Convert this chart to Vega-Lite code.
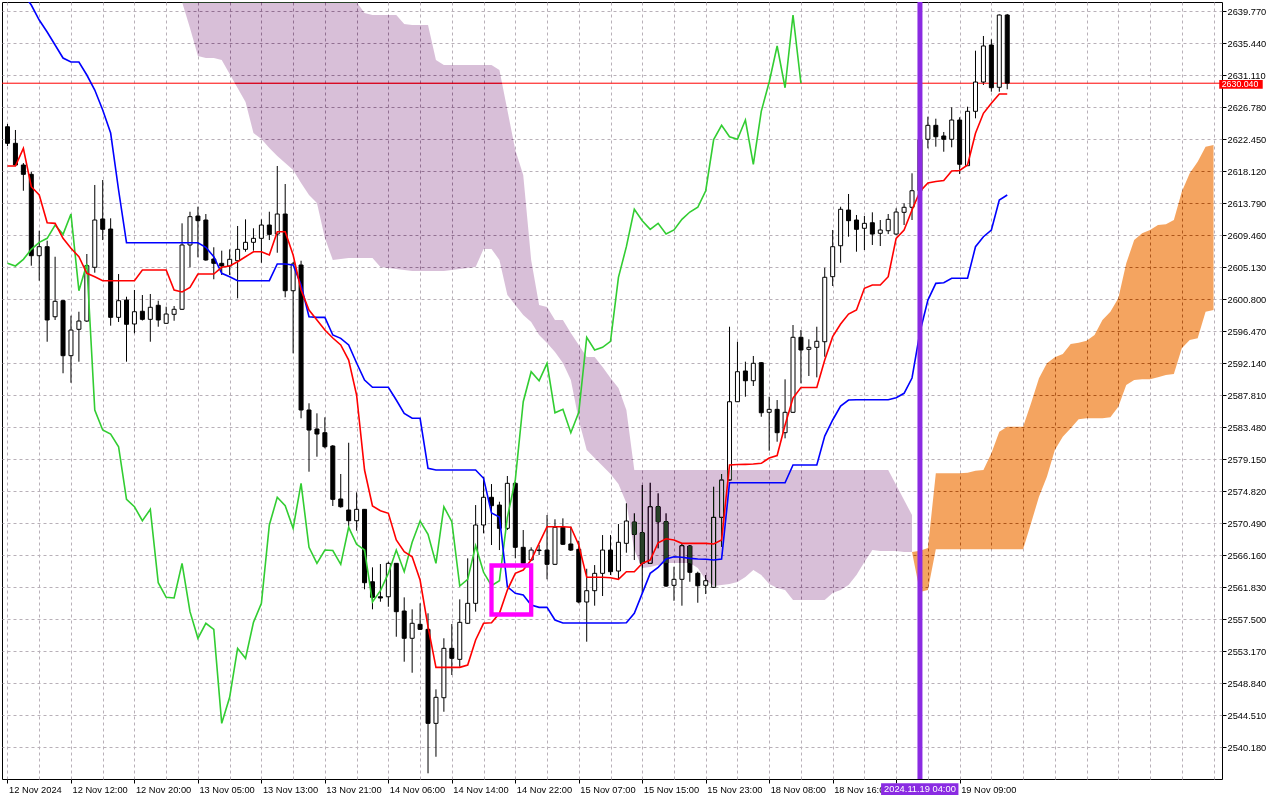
{
  "$schema": "https://vega.github.io/schema/vega-lite/v6.json",
  "width": 1220,
  "height": 777,
  "autosize": "none",
  "padding": {"left": 2, "top": 2, "right": 58, "bottom": 21},
  "background": "#ffffff",
  "config": {
    "view": {"stroke": "#000000", "strokeWidth": 1},
    "axis": {"labelFont": "Liberation Sans", "labelFontSize": 9.3, "labelColor": "#000000", "tickColor": "#000000", "domain": false},
    "text": {"font": "Liberation Sans", "fontSize": 9.3}
  },
  "datasets": {
    "bars": [
      {"i":0,"o":2624.15,"h":2624.52,"l":2621.54,"c":2621.91,"tk":2618.84,"kj":2645.36,"ch":2605.67},
      {"i":1,"o":2621.91,"h":2623.71,"l":2618.84,"c":2618.97,"tk":2618.84,"kj":2643.74,"ch":2605.31},
      {"i":2,"o":2618.97,"h":2619.24,"l":2615.49,"c":2617.71,"tk":2621.23,"kj":2642.11,"ch":2606.21},
      {"i":3,"o":2617.71,"h":2618.07,"l":2605.35,"c":2606.70,"tk":2616.04,"kj":2640.62,"ch":2607.56},
      {"i":4,"o":2606.70,"h":2610.08,"l":2603.32,"c":2607.92,"tk":2614.91,"kj":2638.59,"ch":2608.51},
      {"i":5,"o":2607.92,"h":2608.73,"l":2595.06,"c":2598.00,"tk":2611.16,"kj":2636.97,"ch":2609.05},
      {"i":6,"o":2598.44,"h":2606.56,"l":2598.00,"c":2600.53,"tk":2611.08,"kj":2635.21,"ch":2610.85},
      {"i":7,"o":2600.61,"h":2600.70,"l":2590.79,"c":2593.17,"tk":2609.05,"kj":2633.45,"ch":2609.59},
      {"i":8,"o":2593.17,"h":2598.58,"l":2589.51,"c":2596.64,"tk":2607.70,"kj":2632.91,"ch":2612.34},
      {"i":9,"o":2596.74,"h":2599.12,"l":2592.36,"c":2597.86,"tk":2606.56,"kj":2632.91,"ch":2601.96},
      {"i":10,"o":2597.86,"h":2606.93,"l":2597.73,"c":2605.35,"tk":2604.32,"kj":2631.15,"ch":2605.58},
      {"i":11,"o":2605.13,"h":2616.27,"l":2604.40,"c":2611.53,"tk":2603.86,"kj":2629.12,"ch":2585.82},
      {"i":12,"o":2611.67,"h":2616.94,"l":2608.82,"c":2610.27,"tk":2603.32,"kj":2626.41,"ch":2583.11},
      {"i":13,"o":2610.31,"h":2611.76,"l":2597.23,"c":2598.36,"tk":2603.32,"kj":2623.30,"ch":2582.57},
      {"i":14,"o":2598.36,"h":2604.22,"l":2597.73,"c":2600.61,"tk":2603.32,"kj":2615.59,"ch":2580.85},
      {"i":15,"o":2600.70,"h":2601.15,"l":2592.36,"c":2597.42,"tk":2603.32,"kj":2608.46,"ch":2573.73},
      {"i":16,"o":2597.46,"h":2602.06,"l":2596.20,"c":2599.12,"tk":2603.32,"kj":2608.46,"ch":2572.73},
      {"i":17,"o":2599.18,"h":2601.38,"l":2597.93,"c":2598.09,"tk":2604.76,"kj":2608.46,"ch":2570.84},
      {"i":18,"o":2598.09,"h":2601.52,"l":2595.06,"c":2599.72,"tk":2604.76,"kj":2608.46,"ch":2572.38},
      {"i":19,"o":2599.99,"h":2600.61,"l":2597.09,"c":2598.00,"tk":2604.76,"kj":2608.46,"ch":2562.45},
      {"i":20,"o":2597.55,"h":2599.80,"l":2597.46,"c":2598.81,"tk":2604.76,"kj":2608.46,"ch":2560.47},
      {"i":21,"o":2598.77,"h":2599.89,"l":2597.90,"c":2599.45,"tk":2602.06,"kj":2608.46,"ch":2560.38},
      {"i":22,"o":2599.45,"h":2611.08,"l":2599.35,"c":2608.15,"tk":2601.79,"kj":2608.46,"ch":2565.07},
      {"i":23,"o":2608.15,"h":2612.65,"l":2605.13,"c":2611.98,"tk":2602.40,"kj":2608.46,"ch":2558.53},
      {"i":24,"o":2612.07,"h":2613.33,"l":2606.48,"c":2611.44,"tk":2604.22,"kj":2608.46,"ch":2554.93},
      {"i":25,"o":2611.53,"h":2612.34,"l":2606.02,"c":2606.12,"tk":2604.22,"kj":2607.84,"ch":2556.96},
      {"i":26,"o":2606.25,"h":2607.84,"l":2603.51,"c":2605.67,"tk":2604.22,"kj":2606.56,"ch":2556.14},
      {"i":27,"o":2605.67,"h":2607.38,"l":2604.09,"c":2605.31,"tk":2605.13,"kj":2604.32,"ch":2543.42},
      {"i":28,"o":2605.31,"h":2607.56,"l":2604.09,"c":2606.21,"tk":2605.31,"kj":2603.86,"ch":2546.94},
      {"i":29,"o":2606.02,"h":2610.72,"l":2600.93,"c":2607.56,"tk":2605.89,"kj":2603.32,"ch":2553.57},
      {"i":30,"o":2607.56,"h":2611.62,"l":2607.24,"c":2608.51,"tk":2606.56,"kj":2603.32,"ch":2552.22},
      {"i":31,"o":2608.51,"h":2610.41,"l":2607.38,"c":2609.05,"tk":2607.24,"kj":2603.32,"ch":2557.09},
      {"i":32,"o":2609.05,"h":2611.62,"l":2605.75,"c":2610.85,"tk":2607.24,"kj":2603.32,"ch":2559.66},
      {"i":33,"o":2610.85,"h":2612.65,"l":2608.82,"c":2609.59,"tk":2606.79,"kj":2603.32,"ch":2570.26},
      {"i":34,"o":2609.63,"h":2618.84,"l":2607.10,"c":2612.34,"tk":2609.95,"kj":2605.58,"ch":2574.01},
      {"i":35,"o":2612.34,"h":2616.40,"l":2601.07,"c":2601.96,"tk":2609.95,"kj":2605.58,"ch":2572.87},
      {"i":36,"o":2601.96,"h":2605.85,"l":2593.49,"c":2605.58,"tk":2606.79,"kj":2605.44,"ch":2569.81},
      {"i":37,"o":2605.44,"h":2606.02,"l":2584.70,"c":2585.82,"tk":2602.06,"kj":2602.73,"ch":2575.90},
      {"i":38,"o":2585.82,"h":2586.73,"l":2577.47,"c":2583.11,"tk":2599.35,"kj":2598.44,"ch":2567.24},
      {"i":39,"o":2583.25,"h":2585.37,"l":2579.50,"c":2582.57,"tk":2598.00,"kj":2598.36,"ch":2565.07},
      {"i":40,"o":2582.75,"h":2584.83,"l":2580.64,"c":2580.85,"tk":2596.64,"kj":2598.36,"ch":2566.87},
      {"i":41,"o":2580.95,"h":2581.08,"l":2572.83,"c":2573.73,"tk":2595.56,"kj":2595.97,"ch":2566.80},
      {"i":42,"o":2573.78,"h":2577.16,"l":2572.60,"c":2572.73,"tk":2594.62,"kj":2595.52,"ch":2564.94},
      {"i":43,"o":2572.29,"h":2581.39,"l":2570.03,"c":2570.84,"tk":2592.58,"kj":2594.62,"ch":2569.95},
      {"i":44,"o":2570.84,"h":2574.68,"l":2569.49,"c":2572.38,"tk":2587.85,"kj":2592.18,"ch":2567.65},
      {"i":45,"o":2572.38,"h":2572.42,"l":2561.56,"c":2562.45,"tk":2577.70,"kj":2589.88,"ch":2566.87},
      {"i":46,"o":2562.58,"h":2564.53,"l":2558.85,"c":2560.47,"tk":2572.83,"kj":2588.89,"ch":2559.84},
      {"i":47,"o":2560.55,"h":2564.98,"l":2559.88,"c":2560.38,"tk":2572.19,"kj":2588.89,"ch":2561.37},
      {"i":48,"o":2560.55,"h":2565.29,"l":2559.20,"c":2565.07,"tk":2571.84,"kj":2588.89,"ch":2563.72},
      {"i":49,"o":2565.07,"h":2565.11,"l":2555.14,"c":2558.53,"tk":2568.23,"kj":2587.17,"ch":2566.87},
      {"i":50,"o":2558.62,"h":2560.47,"l":2551.76,"c":2554.93,"tk":2566.64,"kj":2585.37,"ch":2563.94},
      {"i":51,"o":2554.93,"h":2558.85,"l":2550.27,"c":2556.96,"tk":2565.97,"kj":2584.70,"ch":2567.92},
      {"i":52,"o":2556.82,"h":2559.66,"l":2556.05,"c":2556.14,"tk":2562.81,"kj":2584.70,"ch":2570.80},
      {"i":53,"o":2556.14,"h":2558.31,"l":2536.66,"c":2543.42,"tk":2556.50,"kj":2577.93,"ch":2569.00},
      {"i":54,"o":2543.42,"h":2548.02,"l":2538.90,"c":2546.94,"tk":2551.00,"kj":2577.70,"ch":2565.07},
      {"i":55,"o":2546.89,"h":2554.93,"l":2544.99,"c":2553.57,"tk":2551.00,"kj":2577.70,"ch":2572.73},
      {"i":56,"o":2553.57,"h":2556.86,"l":2549.96,"c":2552.22,"tk":2551.00,"kj":2577.70,"ch":2570.70},
      {"i":57,"o":2552.08,"h":2560.20,"l":2551.08,"c":2557.09,"tk":2551.00,"kj":2577.70,"ch":2562.00},
      {"i":58,"o":2556.96,"h":2565.75,"l":2556.86,"c":2559.66,"tk":2551.31,"kj":2577.70,"ch":2562.91},
      {"i":59,"o":2559.66,"h":2572.96,"l":2558.53,"c":2570.26,"tk":2554.70,"kj":2577.70,"ch":2567.46},
      {"i":60,"o":2570.26,"h":2576.79,"l":2569.13,"c":2574.01,"tk":2556.96,"kj":2576.58,"ch":2563.86},
      {"i":61,"o":2574.01,"h":2575.80,"l":2567.55,"c":2572.87,"tk":2557.04,"kj":2571.88,"ch":2562.04},
      {"i":62,"o":2572.96,"h":2573.41,"l":2566.87,"c":2569.81,"tk":2558.31,"kj":2571.34,"ch":2562.72},
      {"i":63,"o":2569.81,"h":2576.89,"l":2569.58,"c":2575.90,"tk":2561.46,"kj":2561.91,"ch":2571.30},
      {"i":64,"o":2575.90,"h":2576.08,"l":2565.75,"c":2567.24,"tk":2563.72,"kj":2561.01,"ch":2576.35},
      {"i":65,"o":2567.24,"h":2569.58,"l":2564.84,"c":2565.07,"tk":2564.17,"kj":2560.79,"ch":2586.94},
      {"i":66,"o":2565.52,"h":2567.24,"l":2565.39,"c":2566.87,"tk":2565.52,"kj":2559.43,"ch":2591.00},
      {"i":67,"o":2566.87,"h":2567.55,"l":2566.20,"c":2566.80,"tk":2567.78,"kj":2559.12,"ch":2589.78},
      {"i":68,"o":2566.87,"h":2571.61,"l":2562.91,"c":2564.94,"tk":2570.03,"kj":2559.12,"ch":2592.14},
      {"i":69,"o":2564.94,"h":2571.03,"l":2564.84,"c":2569.95,"tk":2570.03,"kj":2557.40,"ch":2585.45},
      {"i":70,"o":2569.95,"h":2571.16,"l":2567.55,"c":2567.65,"tk":2570.03,"kj":2557.00,"ch":2585.91},
      {"i":71,"o":2567.69,"h":2570.03,"l":2566.74,"c":2566.87,"tk":2569.95,"kj":2557.00,"ch":2582.75},
      {"i":72,"o":2566.97,"h":2568.13,"l":2559.66,"c":2559.84,"tk":2567.55,"kj":2557.00,"ch":2585.51},
      {"i":73,"o":2559.84,"h":2564.34,"l":2554.47,"c":2561.37,"tk":2563.18,"kj":2557.00,"ch":2595.66},
      {"i":74,"o":2561.37,"h":2564.84,"l":2559.34,"c":2563.72,"tk":2563.18,"kj":2557.00,"ch":2593.94},
      {"i":75,"o":2563.72,"h":2568.90,"l":2560.65,"c":2566.87,"tk":2563.18,"kj":2557.00,"ch":2594.30},
      {"i":76,"o":2566.87,"h":2568.90,"l":2563.49,"c":2563.94,"tk":2563.13,"kj":2557.00,"ch":2595.12},
      {"i":77,"o":2564.03,"h":2570.39,"l":2562.91,"c":2567.92,"tk":2562.91,"kj":2557.00,"ch":2603.78},
      {"i":78,"o":2567.78,"h":2573.19,"l":2566.51,"c":2570.80,"tk":2563.94,"kj":2557.04,"ch":2607.92},
      {"i":79,"o":2570.66,"h":2571.84,"l":2565.52,"c":2569.00,"tk":2563.94,"kj":2558.31,"ch":2612.98},
      {"i":80,"o":2569.21,"h":2575.67,"l":2561.01,"c":2565.07,"tk":2565.07,"kj":2561.01,"ch":2611.44},
      {"i":81,"o":2565.07,"h":2575.98,"l":2564.98,"c":2572.73,"tk":2565.52,"kj":2563.72,"ch":2610.27},
      {"i":82,"o":2572.73,"h":2574.55,"l":2567.10,"c":2570.70,"tk":2567.86,"kj":2564.53,"ch":2611.08},
      {"i":83,"o":2570.70,"h":2571.84,"l":2561.87,"c":2562.00,"tk":2568.40,"kj":2565.66,"ch":2609.63},
      {"i":84,"o":2562.10,"h":2564.61,"l":2560.01,"c":2562.91,"tk":2568.23,"kj":2565.97,"ch":2610.18},
      {"i":85,"o":2562.91,"h":2567.69,"l":2559.34,"c":2567.46,"tk":2567.78,"kj":2565.89,"ch":2611.62},
      {"i":86,"o":2567.42,"h":2567.55,"l":2562.58,"c":2563.86,"tk":2567.78,"kj":2565.75,"ch":2612.61},
      {"i":87,"o":2563.72,"h":2563.94,"l":2559.74,"c":2562.04,"tk":2567.78,"kj":2565.66,"ch":2613.25},
      {"i":88,"o":2562.10,"h":2563.49,"l":2560.92,"c":2562.72,"tk":2567.78,"kj":2565.62,"ch":2615.49},
      {"i":89,"o":2561.83,"h":2575.44,"l":2561.73,"c":2571.30,"tk":2567.69,"kj":2565.52,"ch":2622.42},
      {"i":90,"o":2571.30,"h":2577.16,"l":2567.32,"c":2576.35,"tk":2568.23,"kj":2565.66,"ch":2624.34},
      {"i":91,"o":2576.35,"h":2597.09,"l":2576.21,"c":2586.94,"tk":2578.38,"kj":2575.98,"ch":2622.80},
      {"i":92,"o":2586.94,"h":2595.06,"l":2586.90,"c":2591.00,"tk":2578.44,"kj":2575.98,"ch":2622.45},
      {"i":93,"o":2591.10,"h":2592.36,"l":2587.62,"c":2589.78,"tk":2578.47,"kj":2575.98,"ch":2625.06},
      {"i":94,"o":2589.78,"h":2593.13,"l":2589.07,"c":2592.14,"tk":2578.51,"kj":2575.98,"ch":2619.07},
      {"i":95,"o":2592.22,"h":2592.31,"l":2584.91,"c":2585.45,"tk":2578.61,"kj":2575.98,"ch":2626.24},
      {"i":96,"o":2585.51,"h":2587.62,"l":2580.31,"c":2585.91,"tk":2579.32,"kj":2575.98,"ch":2630.20},
      {"i":97,"o":2585.91,"h":2587.17,"l":2581.53,"c":2582.75,"tk":2579.66,"kj":2575.98,"ch":2635.08},
      {"i":98,"o":2582.75,"h":2589.97,"l":2581.99,"c":2585.51,"tk":2583.79,"kj":2575.98,"ch":2629.43},
      {"i":99,"o":2585.51,"h":2597.32,"l":2585.41,"c":2595.66,"tk":2587.44,"kj":2578.38,"ch":2639.27},
      {"i":100,"o":2595.66,"h":2596.64,"l":2589.43,"c":2593.94,"tk":2588.86,"kj":2578.38,"ch":2630.04},
      {"i":101,"o":2594.03,"h":2595.39,"l":2590.42,"c":2594.30,"tk":2588.86,"kj":2578.38},
      {"i":102,"o":2594.30,"h":2597.09,"l":2590.24,"c":2595.12,"tk":2588.86,"kj":2578.38},
      {"i":103,"o":2595.06,"h":2605.07,"l":2593.03,"c":2603.78,"tk":2592.58,"kj":2582.30},
      {"i":104,"o":2603.86,"h":2610.18,"l":2602.60,"c":2607.92,"tk":2595.74,"kj":2584.47},
      {"i":105,"o":2608.05,"h":2613.33,"l":2605.75,"c":2612.98,"tk":2597.46,"kj":2586.36},
      {"i":106,"o":2612.88,"h":2615.05,"l":2609.27,"c":2611.44,"tk":2598.81,"kj":2587.17},
      {"i":107,"o":2611.53,"h":2612.21,"l":2607.24,"c":2610.27,"tk":2599.35,"kj":2587.21},
      {"i":108,"o":2610.41,"h":2612.07,"l":2607.47,"c":2611.08,"tk":2602.29,"kj":2587.21},
      {"i":109,"o":2611.16,"h":2612.57,"l":2608.15,"c":2609.63,"tk":2602.73,"kj":2587.21},
      {"i":110,"o":2609.73,"h":2611.53,"l":2608.01,"c":2610.18,"tk":2602.73,"kj":2587.21},
      {"i":111,"o":2610.08,"h":2612.34,"l":2609.63,"c":2611.62,"tk":2603.86,"kj":2587.21},
      {"i":112,"o":2609.63,"h":2613.11,"l":2609.50,"c":2612.61,"tk":2609.05,"kj":2587.48},
      {"i":113,"o":2612.57,"h":2613.79,"l":2610.85,"c":2613.25,"tk":2610.18,"kj":2588.08},
      {"i":114,"o":2613.25,"h":2617.85,"l":2611.53,"c":2615.49,"tk":2612.88,"kj":2590.15},
      {"i":115,"o":2615.49,"h":2622.76,"l":2615.32,"c":2622.42,"tk":2615.39,"kj":2596.37},
      {"i":116,"o":2622.45,"h":2625.51,"l":2621.23,"c":2624.34,"tk":2616.54,"kj":2600.70},
      {"i":117,"o":2624.34,"h":2625.24,"l":2621.45,"c":2622.80,"tk":2616.74,"kj":2602.96},
      {"i":118,"o":2622.90,"h":2623.44,"l":2620.77,"c":2622.45,"tk":2616.88,"kj":2603.04},
      {"i":119,"o":2622.45,"h":2626.78,"l":2621.37,"c":2625.06,"tk":2618.16,"kj":2603.64},
      {"i":120,"o":2625.06,"h":2625.43,"l":2617.75,"c":2619.07,"tk":2618.23,"kj":2603.64},
      {"i":121,"o":2618.88,"h":2626.86,"l":2618.84,"c":2626.24,"tk":2618.97,"kj":2603.64},
      {"i":122,"o":2626.24,"h":2634.44,"l":2625.29,"c":2630.20,"tk":2623.26,"kj":2607.92},
      {"i":123,"o":2630.20,"h":2636.43,"l":2629.80,"c":2635.08,"tk":2625.97,"kj":2609.27},
      {"i":124,"o":2635.21,"h":2635.98,"l":2628.89,"c":2629.43,"tk":2627.32,"kj":2610.18},
      {"i":125,"o":2629.49,"h":2639.34,"l":2628.89,"c":2639.27,"tk":2628.58,"kj":2614.24},
      {"i":126,"o":2639.27,"h":2639.41,"l":2629.22,"c":2630.04,"tk":2628.58,"kj":2614.91}
    ],
    "cloud": [
      {"i":22,"k":"bear","top":2641.03,"bot":2641.03},
      {"i":23,"k":"bear","top":2641.03,"bot":2637.51},
      {"i":24,"k":"bear","top":2641.03,"bot":2633.72},
      {"i":25,"k":"bear","top":2641.03,"bot":2633.45},
      {"i":26,"k":"bear","top":2641.03,"bot":2633.45},
      {"i":27,"k":"bear","top":2641.03,"bot":2633.18},
      {"i":28,"k":"bear","top":2641.03,"bot":2631.29},
      {"i":29,"k":"bear","top":2641.03,"bot":2629.39},
      {"i":30,"k":"bear","top":2641.03,"bot":2627.50},
      {"i":31,"k":"bear","top":2641.03,"bot":2623.30},
      {"i":32,"k":"bear","top":2641.03,"bot":2622.49},
      {"i":33,"k":"bear","top":2641.03,"bot":2621.27},
      {"i":34,"k":"bear","top":2641.03,"bot":2620.19},
      {"i":35,"k":"bear","top":2641.03,"bot":2619.24},
      {"i":36,"k":"bear","top":2641.03,"bot":2618.30},
      {"i":37,"k":"bear","top":2641.03,"bot":2616.54},
      {"i":38,"k":"bear","top":2641.03,"bot":2614.91},
      {"i":39,"k":"bear","top":2641.03,"bot":2613.83},
      {"i":40,"k":"bear","top":2641.03,"bot":2609.09},
      {"i":41,"k":"bear","top":2641.03,"bot":2606.12},
      {"i":42,"k":"bear","top":2641.03,"bot":2606.25},
      {"i":43,"k":"bear","top":2641.03,"bot":2606.39},
      {"i":44,"k":"bear","top":2641.03,"bot":2606.39},
      {"i":45,"k":"bear","top":2639.54,"bot":2606.39},
      {"i":46,"k":"bear","top":2639.27,"bot":2606.39},
      {"i":47,"k":"bear","top":2639.27,"bot":2605.17},
      {"i":48,"k":"bear","top":2639.27,"bot":2605.03},
      {"i":49,"k":"bear","top":2639.27,"bot":2604.90},
      {"i":50,"k":"bear","top":2638.05,"bot":2604.76},
      {"i":51,"k":"bear","top":2637.92,"bot":2604.63},
      {"i":52,"k":"bear","top":2637.92,"bot":2604.63},
      {"i":53,"k":"bear","top":2637.92,"bot":2604.63},
      {"i":54,"k":"bear","top":2633.18,"bot":2604.63},
      {"i":55,"k":"bear","top":2632.50,"bot":2604.63},
      {"i":56,"k":"bear","top":2632.50,"bot":2604.76},
      {"i":57,"k":"bear","top":2632.50,"bot":2604.90},
      {"i":58,"k":"bear","top":2632.50,"bot":2605.03},
      {"i":59,"k":"bear","top":2632.50,"bot":2605.17},
      {"i":60,"k":"bear","top":2632.50,"bot":2607.61},
      {"i":61,"k":"bear","top":2632.50,"bot":2607.61},
      {"i":62,"k":"bear","top":2631.83,"bot":2606.12},
      {"i":63,"k":"bear","top":2626.41,"bot":2601.38},
      {"i":64,"k":"bear","top":2621.00,"bot":2600.03},
      {"i":65,"k":"bear","top":2617.62,"bot":2598.67},
      {"i":66,"k":"bear","top":2606.12,"bot":2597.73},
      {"i":67,"k":"bear","top":2600.03,"bot":2595.97},
      {"i":68,"k":"bear","top":2599.76,"bot":2594.89},
      {"i":69,"k":"bear","top":2598.00,"bot":2593.67},
      {"i":70,"k":"bear","top":2598.00,"bot":2592.18},
      {"i":71,"k":"bear","top":2596.24,"bot":2589.88},
      {"i":72,"k":"bear","top":2594.62,"bot":2584.47},
      {"i":73,"k":"bear","top":2592.99,"bot":2580.41},
      {"i":74,"k":"bear","top":2592.99,"bot":2579.32},
      {"i":75,"k":"bear","top":2591.64,"bot":2578.24},
      {"i":76,"k":"bear","top":2590.15,"bot":2577.16},
      {"i":77,"k":"bear","top":2588.80,"bot":2575.80},
      {"i":78,"k":"bear","top":2585.82,"bot":2573.23},
      {"i":79,"k":"bear","top":2577.70,"bot":2566.87},
      {"i":80,"k":"bear","top":2577.70,"bot":2564.44},
      {"i":81,"k":"bear","top":2577.70,"bot":2564.57},
      {"i":82,"k":"bear","top":2577.70,"bot":2564.84},
      {"i":83,"k":"bear","top":2577.70,"bot":2565.11},
      {"i":84,"k":"bear","top":2577.70,"bot":2565.11},
      {"i":85,"k":"bear","top":2577.70,"bot":2565.11},
      {"i":86,"k":"bear","top":2577.70,"bot":2565.11},
      {"i":87,"k":"bear","top":2577.70,"bot":2564.44},
      {"i":88,"k":"bear","top":2577.70,"bot":2562.81},
      {"i":89,"k":"bear","top":2577.70,"bot":2562.00},
      {"i":90,"k":"bear","top":2577.70,"bot":2562.14},
      {"i":91,"k":"bear","top":2577.70,"bot":2562.27},
      {"i":92,"k":"bear","top":2577.70,"bot":2562.54},
      {"i":93,"k":"bear","top":2577.70,"bot":2563.22},
      {"i":94,"k":"bear","top":2577.70,"bot":2564.17},
      {"i":95,"k":"bear","top":2577.70,"bot":2563.49},
      {"i":96,"k":"bear","top":2577.70,"bot":2562.27},
      {"i":97,"k":"bear","top":2577.70,"bot":2561.73},
      {"i":98,"k":"bear","top":2577.70,"bot":2561.46},
      {"i":99,"k":"bear","top":2577.70,"bot":2560.11},
      {"i":100,"k":"bear","top":2577.70,"bot":2560.11},
      {"i":101,"k":"bear","top":2577.70,"bot":2560.11},
      {"i":102,"k":"bear","top":2577.70,"bot":2560.11},
      {"i":103,"k":"bear","top":2577.70,"bot":2560.11},
      {"i":104,"k":"bear","top":2577.70,"bot":2561.06},
      {"i":105,"k":"bear","top":2577.70,"bot":2561.46},
      {"i":106,"k":"bear","top":2577.70,"bot":2562.14},
      {"i":107,"k":"bear","top":2577.70,"bot":2563.49},
      {"i":108,"k":"bear","top":2577.70,"bot":2565.25},
      {"i":109,"k":"bear","top":2577.70,"bot":2566.87},
      {"i":110,"k":"bear","top":2577.70,"bot":2566.74},
      {"i":111,"k":"bear","top":2577.70,"bot":2566.74},
      {"i":112,"k":"bear","top":2575.67,"bot":2566.74},
      {"i":113,"k":"bear","top":2573.64,"bot":2566.60},
      {"i":114,"k":"bear","top":2571.61,"bot":2566.60},
      {"i":114,"k":"bull","top":2566.60,"bot":2566.60},
      {"i":115,"k":"bull","top":2566.78,"bot":2561.19},
      {"i":116,"k":"bull","top":2567.15,"bot":2561.46},
      {"i":117,"k":"bull","top":2577.25,"bot":2566.97},
      {"i":118,"k":"bull","top":2577.25,"bot":2566.97},
      {"i":119,"k":"bull","top":2577.25,"bot":2566.97},
      {"i":120,"k":"bull","top":2577.25,"bot":2566.97},
      {"i":121,"k":"bull","top":2577.33,"bot":2566.97},
      {"i":122,"k":"bull","top":2577.61,"bot":2566.97},
      {"i":123,"k":"bull","top":2577.70,"bot":2566.97},
      {"i":124,"k":"bull","top":2579.96,"bot":2566.97},
      {"i":125,"k":"bull","top":2582.88,"bot":2566.97},
      {"i":126,"k":"bull","top":2583.56,"bot":2566.97},
      {"i":127,"k":"bull","top":2583.56,"bot":2566.97},
      {"i":128,"k":"bull","top":2583.56,"bot":2566.97},
      {"i":129,"k":"bull","top":2586.73,"bot":2570.49},
      {"i":130,"k":"bull","top":2590.11,"bot":2574.09},
      {"i":131,"k":"bull","top":2592.14,"bot":2576.79},
      {"i":132,"k":"bull","top":2592.95,"bot":2580.41},
      {"i":133,"k":"bull","top":2593.40,"bot":2582.21},
      {"i":134,"k":"bull","top":2594.75,"bot":2583.34},
      {"i":135,"k":"bull","top":2594.93,"bot":2584.56},
      {"i":136,"k":"bull","top":2595.20,"bot":2584.70},
      {"i":137,"k":"bull","top":2595.97,"bot":2584.70},
      {"i":138,"k":"bull","top":2598.00,"bot":2584.70},
      {"i":139,"k":"bull","top":2599.12,"bot":2584.83},
      {"i":140,"k":"bull","top":2600.93,"bot":2586.27},
      {"i":141,"k":"bull","top":2605.67,"bot":2589.20},
      {"i":142,"k":"bull","top":2608.82,"bot":2589.88},
      {"i":143,"k":"bull","top":2609.73,"bot":2589.97},
      {"i":144,"k":"bull","top":2610.18,"bot":2589.97},
      {"i":145,"k":"bull","top":2610.85,"bot":2590.24},
      {"i":146,"k":"bull","top":2610.95,"bot":2590.56},
      {"i":147,"k":"bull","top":2611.53,"bot":2590.69},
      {"i":148,"k":"bull","top":2615.36,"bot":2594.17},
      {"i":149,"k":"bull","top":2617.85,"bot":2595.29},
      {"i":150,"k":"bull","top":2619.42,"bot":2595.52},
      {"i":151,"k":"bull","top":2621.45,"bot":2599.12},
      {"i":152,"k":"bull","top":2621.68,"bot":2599.35}
    ],
    "boxes": [
      {"t1": 61, "t2": 66, "p1": 2564.78, "p2": 2558.15}
    ]
  },
  "layer": [
    {
      "data": {"name": "bars"},
      "mark": {"type": "rule", "color": "#000000", "strokeWidth": 1, "clip": true},
      "encoding": {
        "x": {
          "field": "i", "type": "quantitative",
          "scale": {"domain": [-0.0625, 152.4375], "nice": false, "zero": false},
          "axis": {
            "values": [0,4,8,12,16,20,24,28,32,36,40,44,48,52,56,60,64,68,72,76,80,84,88,92,96,100,104,108,112,116,120,124,128,132,136,140,144,148,152],
            "tickCount": 500,
            "grid": true, "gridColor": "#b8b0b8", "gridDash": [3, 3], "gridWidth": 1,
            "domain": false, "tickSize": 4, "tickColor": "#000000",
            "tickOpacity": {"condition": {"test": "datum.value % 8 != 0 || datum.value > 120", "value": 0}, "value": 1},
            "labelExpr": "datum.value % 8 == 0 && datum.value <= 120 && datum.value != 112 ? ['12 Nov 2024','12 Nov 12:00','12 Nov 20:00','13 Nov 05:00','13 Nov 13:00','13 Nov 21:00','14 Nov 06:00','14 Nov 14:00','14 Nov 22:00','15 Nov 07:00','15 Nov 15:00','15 Nov 23:00','18 Nov 08:00','18 Nov 16:00','19 Nov 01:00','19 Nov 09:00'][datum.value / 8] : ''",
            "labelAlign": "left", "labelBaseline": "top", "labelOffset": 1, "labelPadding": 2,
            "labelOverlap": false, "labelFlush": false, "labelBound": false, "title": null
          }
        },
        "y": {
          "field": "l", "type": "quantitative",
          "scale": {"domain": [2535.89, 2641.03], "nice": false, "zero": false},
          "axis": {
            "orient": "right",
            "values": [2540.18,2544.51,2548.84,2553.17,2557.50,2561.83,2566.16,2570.49,2574.82,2579.15,2583.48,2587.81,2592.14,2596.47,2600.80,2605.13,2609.46,2613.79,2618.12,2622.45,2626.78,2631.11,2635.44,2639.77],
            "tickCount": 500,
            "format": ".3f", "grid": true, "gridColor": "#b8b0b8", "gridDash": [3, 3], "gridWidth": 1,
            "domain": false, "tickSize": 4, "tickColor": "#000000", "labelPadding": 1,
            "labelOverlap": false, "labelFlush": false, "title": null
          }
        },
        "y2": {"field": "h"}
      }
    },
    {
      "data": {"values": [{}]},
      "mark": {"type": "rule", "color": "#ff0000", "strokeWidth": 1},
      "encoding": {
        "y": {"datum": 2630.04, "type": "quantitative"}
      }
    },
    {
      "data": {"name": "bars"},
      "mark": {"type": "bar", "size": 4, "stroke": "#000000", "strokeWidth": 1, "clip": true},
      "encoding": {
        "x": {"field": "i", "type": "quantitative"},
        "y": {"field": "o", "type": "quantitative"},
        "y2": {"field": "c"},
        "fill": {"condition": {"test": "datum.c >= datum.o", "value": "#ffffff"}, "value": "#000000"}
      }
    },
    {
      "data": {"name": "cloud"},
      "transform": [{"filter": "datum.k == 'bear'"}],
      "mark": {"type": "area", "color": "#274027", "blend": "difference"},
      "encoding": {
        "x": {"field": "i", "type": "quantitative"},
        "y": {"field": "top", "type": "quantitative"},
        "y2": {"field": "bot"}
      }
    },
    {
      "data": {"name": "cloud"},
      "transform": [{"filter": "datum.k == 'bull'"}],
      "mark": {"type": "area", "color": "#0b5b9f", "blend": "difference"},
      "encoding": {
        "x": {"field": "i", "type": "quantitative"},
        "y": {"field": "top", "type": "quantitative"},
        "y2": {"field": "bot"}
      }
    },
    {
      "data": {"name": "bars"},
      "mark": {"type": "line", "color": "#32cd32", "strokeWidth": 1.6, "clip": true},
      "encoding": {
        "x": {"field": "i", "type": "quantitative"},
        "y": {"field": "ch", "type": "quantitative"}
      }
    },
    {
      "data": {"name": "bars"},
      "mark": {"type": "line", "color": "#0000ff", "strokeWidth": 1.6, "clip": true},
      "encoding": {
        "x": {"field": "i", "type": "quantitative"},
        "y": {"field": "kj", "type": "quantitative"}
      }
    },
    {
      "data": {"name": "bars"},
      "mark": {"type": "line", "color": "#ff0000", "strokeWidth": 1.6, "clip": true},
      "encoding": {
        "x": {"field": "i", "type": "quantitative"},
        "y": {"field": "tk", "type": "quantitative"}
      }
    },
    {
      "data": {"name": "boxes"},
      "mark": {"type": "rect", "fillOpacity": 0, "stroke": "#ff00ff", "strokeWidth": 4.3},
      "encoding": {
        "x": {"field": "t1", "type": "quantitative"},
        "x2": {"field": "t2"},
        "y": {"field": "p1", "type": "quantitative"},
        "y2": {"field": "p2"}
      }
    },
    {
      "data": {"values": [{}]},
      "mark": {"type": "rule", "color": "#8a2be2", "strokeWidth": 5},
      "encoding": {
        "x": {"datum": 115, "type": "quantitative"}
      }
    },
    {
      "data": {"values": [{}]},
      "mark": {"type": "rect", "color": "#8a2be2"},
      "encoding": {
        "x": {"datum": 110.1, "type": "quantitative"},
        "x2": {"datum": 119.85},
        "y": {"datum": 2535.30, "type": "quantitative"},
        "y2": {"datum": 2533.72}
      }
    },
    {
      "data": {"values": [{}]},
      "mark": {"type": "text", "text": "2024.11.19 04:00", "color": "#ffffff", "align": "center", "baseline": "middle", "font": "Liberation Sans", "fontSize": 9.3},
      "encoding": {
        "x": {"datum": 115, "type": "quantitative"},
        "y": {"datum": 2534.51, "type": "quantitative"}
      }
    },
    {
      "data": {"values": [{}]},
      "mark": {"type": "rect", "color": "#ff0000"},
      "encoding": {
        "x": {"datum": 152.72, "type": "quantitative"},
        "x2": {"datum": 158.2},
        "y": {"datum": 2630.47, "type": "quantitative"},
        "y2": {"datum": 2629.28}
      }
    },
    {
      "data": {"values": [{}]},
      "mark": {"type": "text", "text": "2630.040", "color": "#ffffff", "align": "left", "baseline": "middle", "font": "Liberation Sans", "fontSize": 8.8},
      "encoding": {
        "x": {"datum": 153.03, "type": "quantitative"},
        "y": {"datum": 2629.88, "type": "quantitative"}
      }
    }
  ]
}
